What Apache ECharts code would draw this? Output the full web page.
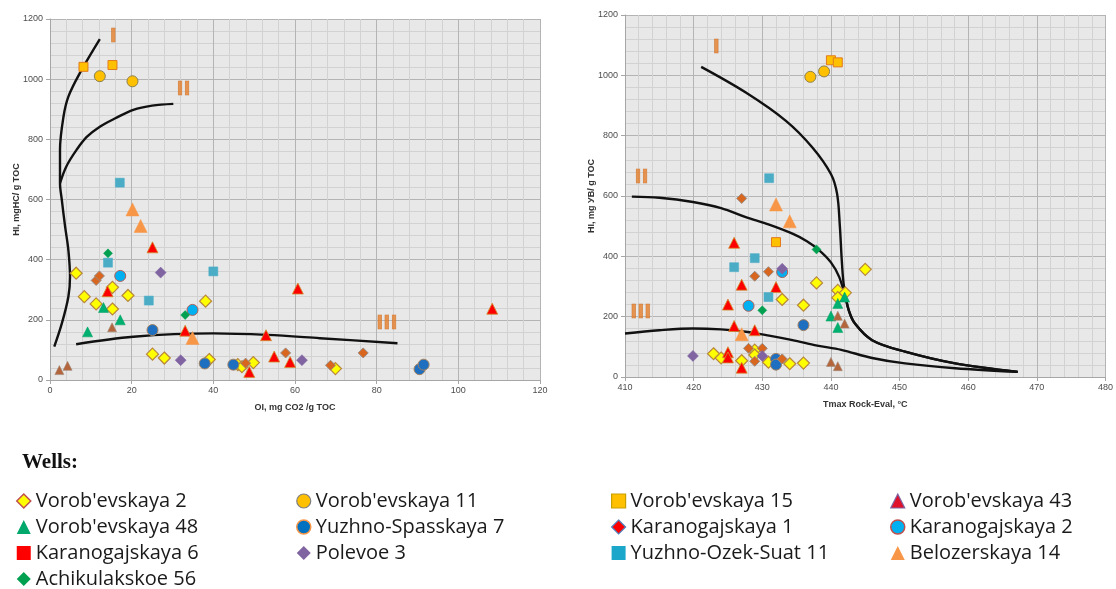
<!DOCTYPE html>
<html><head><meta charset="utf-8">
<script src="https://cdn.jsdelivr.net/npm/echarts@6/dist/echarts.min.js"></script>
<style>html,body{margin:0;padding:0;background:#fff}#c{width:1116px;height:589px}</style>
</head><body><div id="c"></div>
<script>
// ---- Axis ticks ----
const oiTicks = [0, 20, 40, 60, 80, 100, 120];
const tmaxTicks = [410, 420, 430, 440, 450, 460, 470, 480];
const hiTicks = [0, 200, 400, 600, 800, 1000, 1200];

// ---- Left chart: OI vs HI ----
const vor2_L = [[6.4,355],[8.4,277],[11.3,253],[15.3,308],[15.3,236],[19.1,281],[38.1,262],[25.1,86],[28,73],[39,68],[46,51],[47,44],[49.8,58],[69.9,38]];
const vor11_L = [[12.2,1010],[20.2,993]];
const vor15_L = [[8.2,1041],[15.3,1047]];
const vor43_L = [[25.1,441],[14.1,295],[33.1,164],[52.9,149],[54.9,78],[58.8,60],[48.8,27],[60.7,304],[108.3,237]];
const vor48_L = [[9.2,160],[13.1,241],[17.2,200]];
const yuzhSp7_L = [[25.1,166],[37.9,55],[44.9,51],[90.5,36],[91.5,51]];
const karan1_L = [[11.3,331],[12.1,346],[47.9,56],[57.7,90],[68.7,49],[76.7,90]];
const karan2_L = [[17.2,346],[34.9,233]];
const karan6_L = [[15.2,175],[2.3,33],[4.3,47]];
const polevoe3_L = [[27.1,357],[32,66],[61.7,66]];
const ozek11_L = [[17.1,656],[14.2,390],[24.2,264],[40,361]];
const beloz14_L = [[20.2,567],[22.2,512],[34.9,140]];
const achik56_L = [[14.2,421],[33.1,216]];

// ---- Right chart: Tmax vs HI ----
const vor2_R = [[437.9,312],[432.9,257],[436,238],[441,287],[441,263],[442.1,279],[445,357],[422.9,77],[424,63],[427,54],[428.9,89],[428.9,73],[430.9,49],[434,44],[436,46]];
const vor11_R = [[437,995],[439,1013]];
const vor15_R = [[440,1050],[441,1043],[432,447]];
const vor43_R = [[425.9,445],[427,306],[432,298],[425,240],[425.9,169],[428.9,155],[425,82],[425,65],[427,31]];
const vor48_R = [[440,202],[441,244],[441,164],[442,265]];
const yuzhSp7_R = [[436,172],[432,60],[432,41]];
const karan1_R = [[427,592],[428.9,334],[430.9,349],[428,95],[430,95],[428.9,52],[432.9,60]];
const karan2_R = [[432.9,348],[428,236]];
const karan6_R = [[441,203],[442,177],[440,50],[441,36]];
const polevoe3_R = [[432.9,359],[419.9,70],[430,70]];
const ozek11_R = [[431,659],[428.9,394],[425.9,364],[430.9,265]];
const beloz14_R = [[432,572],[434,516],[427,142]];
const achik56_R = [[437.9,423],[430,221]];

// ---- Kerogen type boundary curves ----
const curveI_L = [[1.05,111],[2.9,188],[4.5,277],[4.9,343],[4.5,432],[3.7,510],[2.9,598],[2.45,654],[2.45,765],[3.3,875],[4.5,942],[7.3,1020],[12.2,1133]];
const curveII_L = [[2.45,654],[4,710],[6.5,765],[9,808],[12.2,842],[16,870],[20.4,898],[25,912],[30.2,918]];
const curveIII_L = [[6.4,119],[20.4,144],[40,155],[53.1,150],[66.1,139],[85.1,122]];
const curveI_R = [[421.1,1028],[427.6,943],[433.4,850],[437.3,761],[440,673],[440.9,607],[441.3,500],[441.6,380],[441.9,300],[442.6,221],[443.5,177],[446,122],[450.8,84],[458.1,45],[467.2,17]];
const curveII_R = [[411,598],[415,594],[419.9,580],[424,560],[427.6,530],[431,505],[434.4,475],[436.5,450],[438.3,420],[440,380],[441.2,332],[442.1,265],[442.6,221],[443.5,177],[446,122],[450.8,84],[458.1,45],[467.2,17]];
const curveIII_R = [[410,144],[415,155],[419.9,161],[424,158],[427.6,150],[431,137],[434.4,122],[438,104],[441.5,90],[446,63],[450.8,45],[458.1,29],[467.2,17]];

// ---- Type labels ----
const typeLabels_L = [[15.5,1141,'I'],[32.7,964,'II'],[82.5,185,'III']];
const typeLabels_R = [[423.3,1089,'I'],[412.4,659,'II'],[412.3,213,'III']];

// ---- Wells (legend order in columns) ----
const legendCols = [
  ["Vorob'evskaya 2","Vorob'evskaya 48","Karanogajskaya 6","Achikulakskoe 56"],
  ["Vorob'evskaya 11","Yuzhno-Spasskaya 7","Polevoe 3"],
  ["Vorob'evskaya 15","Karanogajskaya 1","Yuzhno-Ozek-Suat 11"],
  ["Vorob'evskaya 43","Karanogajskaya 2","Belozerskaya 14"]
];

const wells = [
  {name:"Vorob'evskaya 2", L:vor2_L, R:vor2_R, sym:'diamond', size:12, color:'#ffff00', border:'#b8863b', bw:1.2,
   lg:{icon:'diamond', color:'#ffff00', border:'#c0504d', bw:1.5}},
  {name:"Vorob'evskaya 11", L:vor11_L, R:vor11_R, sym:'circle', size:11, color:'#ffc000', border:'#8c8050', bw:1,
   lg:{icon:'circle', color:'#ffc000', border:'#7f7f7f', bw:1.2}},
  {name:"Vorob'evskaya 15", L:vor15_L, R:vor15_R, sym:'rect', size:9, color:'#ffc000', border:'#e07b20', bw:1,
   lg:{icon:'rect', color:'#ffc000', border:'#c8a000', bw:1.2}},
  {name:"Vorob'evskaya 43", L:vor43_L, R:vor43_R, sym:'triangle', size:11, color:'#ff0000', border:'#d09030', bw:0.8,
   lg:{icon:'triangle', color:'#e0102a', border:'#8064a2', bw:1.2}},
  {name:"Vorob'evskaya 48", L:vor48_L, R:vor48_R, sym:'triangle', size:10, color:'#00b070', border:'#00a060', bw:0.5,
   lg:{icon:'triangle', color:'#00a86b', border:'#00a86b', bw:0}},
  {name:"Yuzhno-Spasskaya 7", L:yuzhSp7_L, R:yuzhSp7_R, sym:'circle', size:11, color:'#1f6fc0', border:'#a08060', bw:1,
   lg:{icon:'circle', color:'#0070c0', border:'#f79646', bw:1.5}},
  {name:"Karanogajskaya 1", L:karan1_L, R:karan1_R, sym:'diamond', size:10, color:'#d9661f', border:'#9a8a80', bw:1,
   lg:{icon:'diamond', color:'#ff0000', border:'#4f81bd', bw:1.2}},
  {name:"Karanogajskaya 2", L:karan2_L, R:karan2_R, sym:'circle', size:11, color:'#00b0f0', border:'#b0605a', bw:1,
   lg:{icon:'circle', color:'#00b0f0', border:'#c0504d', bw:1.5}},
  {name:"Karanogajskaya 6", L:karan6_L, R:karan6_R, sym:'triangle', size:9, color:'#b5653b', border:'#a08a78', bw:0.6,
   lg:{icon:'rect', color:'#ff0000', border:'#ff0000', bw:0}},
  {name:"Polevoe 3", L:polevoe3_L, R:polevoe3_R, sym:'diamond', size:11, color:'#8064a2', border:'#8064a2', bw:0.5,
   lg:{icon:'diamond', color:'#8064a2', border:'#8064a2', bw:0}},
  {name:"Yuzhno-Ozek-Suat 11", L:ozek11_L, R:ozek11_R, sym:'rect', size:9, color:'#4bacc6', border:'#4bacc6', bw:0.5,
   lg:{icon:'rect', color:'#1aa7c9', border:'#1aa7c9', bw:0}},
  {name:"Belozerskaya 14", L:beloz14_L, R:beloz14_R, sym:'triangle', size:13, color:'#f79646', border:'#f79646', bw:0.5,
   lg:{icon:'triangle', color:'#f79646', border:'#f79646', bw:0}},
  {name:"Achikulakskoe 56", L:achik56_L, R:achik56_R, sym:'diamond', size:9, color:'#00a050', border:'#00a050', bw:0.5,
   lg:{icon:'diamond', color:'#00a050', border:'#00a050', bw:0}}
];

const tickFont = {fontFamily:'Liberation Sans', fontSize:9, color:'#4d4d4d'};
const nameFont = {fontFamily:'Liberation Sans', fontSize:9, fontWeight:'bold', color:'#333'};
const plainNum = v => String(v);

function xAxisDef(idx, min, max, interval, name) {
  return {
    type:'value', gridIndex:idx, min:min, max:max, interval:interval,
    name:name, nameLocation:'middle', nameGap:23, nameTextStyle:nameFont, nameMoveOverlap:false,
    axisLine:{show:true, lineStyle:{color:'#a6a6a6', width:1}},
    axisTick:{show:true, length:4, lineStyle:{color:'#a6a6a6'}},
    axisLabel:Object.assign({margin:6, formatter:plainNum}, tickFont),
    splitLine:{show:true, lineStyle:{color:'#b4b4b4', width:1}},
    minorTick:{show:false, splitNumber:5},
    minorSplitLine:{show:true, lineStyle:{color:'#d2d2d2', width:1}}
  };
}
function yAxisDef(idx, name) {
  return {
    type:'value', gridIndex:idx, min:0, max:1200, interval:200,
    name:name, nameLocation:'middle', nameGap:29, nameTextStyle:nameFont, nameMoveOverlap:false,
    axisLine:{show:true, lineStyle:{color:'#a6a6a6', width:1}},
    axisTick:{show:true, length:4, lineStyle:{color:'#a6a6a6'}},
    axisLabel:Object.assign({margin:7, formatter:plainNum}, tickFont),
    splitLine:{show:true, lineStyle:{color:'#b4b4b4', width:1}},
    minorTick:{show:false, splitNumber:5},
    minorSplitLine:{show:true, lineStyle:{color:'#d2d2d2', width:1}}
  };
}

const series = [];
function curve(data, idx) {
  series.push({type:'line', xAxisIndex:idx, yAxisIndex:idx, data:data, smooth:0.35, symbol:'none',
    lineStyle:{color:'#111', width:2.4}, silent:true, z:3});
}
curve(curveI_L,0); curve(curveII_L,0); curve(curveIII_L,0);
curve(curveI_R,1); curve(curveII_R,1); curve(curveIII_R,1);

wells.forEach(w => {
  [['L',0],['R',1]].forEach(([k,idx]) => {
    series.push({type:'scatter', name:w.name, xAxisIndex:idx, yAxisIndex:idx, data:w[k],
      symbol:w.sym, symbolSize:w.size,
      itemStyle:{color:w.color, borderColor:w.border, borderWidth:w.bw, opacity:1}, z:5});
  });
});

function typeLabelSeries(data, idx) {
  series.push({type:'scatter', xAxisIndex:idx, yAxisIndex:idx, silent:true, symbolSize:1,
    itemStyle:{color:'rgba(0,0,0,0)'},
    data:data.map(d => ({value:[d[0], d[1]], name:d[2]})),
    label:{show:true, position:'inside', formatter:p => p.name,
      fontFamily:'DejaVu Sans', fontWeight:'bold', fontSize:19, color:'#e37d2b',
      textBorderColor:'#b8601c', textBorderWidth:0.6}, z:6});
}
typeLabelSeries(typeLabels_L, 0);
typeLabelSeries(typeLabels_R, 1);

const colLeft = [16, 296, 611, 890];
const legends = legendCols.map((col, i) => ({
  orient:'vertical', left:colLeft[i], top:491, height:110, padding:0,
  itemWidth:14, itemHeight:14, itemGap:6,
  selectedMode:false,
  textStyle:{fontFamily:'Open Sans', fontSize:20, lineHeight:20, color:'#1a1a1a'},
  data: col.map(n => {
    const w = wells.find(x => x.name === n);
    return {name:n, icon:w.lg.icon, itemStyle:{color:w.lg.color, borderColor:w.lg.border, borderWidth:w.lg.bw}};
  })
}));

const chart = echarts.init(document.getElementById('c'), null, {renderer:'canvas'});
chart.setOption({
  animation:false,
  backgroundColor:'#ffffff',
  title:{text:'Wells:', left:22, top:452, padding:0, textStyle:{fontFamily:'Liberation Serif', fontWeight:'bold', fontSize:21, color:'#111'}},
  legend: legends,
  grid:[
    {left:50, top:19, width:490, height:361, show:true, backgroundColor:'#e8e8e8', borderWidth:0},
    {left:625, top:15, width:483, height:362, show:true, backgroundColor:'#e8e8e8', borderWidth:0}
  ],
  xAxis:[
    xAxisDef(0, 0, 120, 20, 'OI, mg CO2 /g TOC'),
    xAxisDef(1, 410, 480, 10, 'Tmax Rock-Eval, °C')
  ],
  yAxis:[ yAxisDef(0, 'HI, mgHC/ g TOC'), yAxisDef(1, 'HI, mg УВ/ g TOC') ],
  series: series
});
</script></body></html>
